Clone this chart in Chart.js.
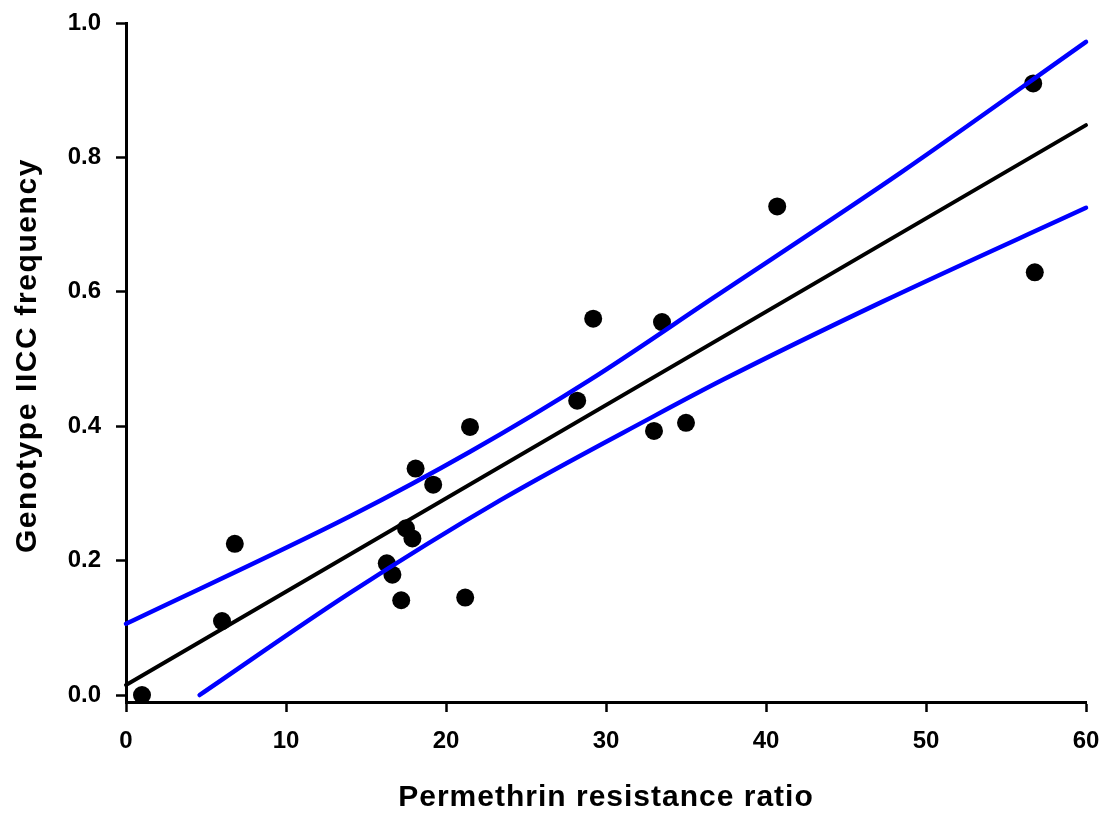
<!DOCTYPE html>
<html>
<head>
<meta charset="utf-8">
<script src="https://cdn.jsdelivr.net/npm/chart.js@4/dist/chart.umd.min.js"></script>
<style>
  html, body { margin: 0; padding: 0; background: #fff; }
  #wrap { width: 1102px; height: 813px; }
</style>
</head>
<body>
<div id="wrap"><canvas id="chart"></canvas></div>
<script>
// observed points (resistance ratio vs IICC frequency)
const resistanceRatio = [1.0, 6.0, 6.8, 16.3, 16.65, 17.2, 17.5, 17.9, 18.1, 19.2, 21.2, 21.5, 28.2, 29.2, 33.0, 33.5, 35.0, 40.7, 56.7, 56.8];
const iiccFrequency   = [0.0, 0.110, 0.225, 0.196, 0.179, 0.141, 0.248, 0.233, 0.337, 0.313, 0.145, 0.399, 0.438, 0.560, 0.393, 0.555, 0.405, 0.727, 0.910, 0.629];

// regression line
const fitX = [0, 60];
const fitY = [0.015, 0.848];

// confidence band
const upperX = [0, 14.0, 21.5, 29.0, 36.7, 48.4, 60];
const upperY = [0.106, 0.266, 0.362, 0.469, 0.591, 0.777, 0.972];
const lowerX = [4.6, 14.0, 23.4, 33.0, 37.3, 47.25, 60];
const lowerY = [0.0, 0.152, 0.290, 0.415, 0.469, 0.585, 0.725];

// axis ticks
const xTicks = [0, 10, 20, 30, 40, 50, 60];
const yTicks = [0.0, 0.2, 0.4, 0.6, 0.8, 1.0];

const FONT = "'Liberation Sans', Arial, sans-serif";

function pairs(xs, ys) {
    return xs.map((x, i) => ({ x: x, y: ys[i] }));
}

// axis titles in the original are drawn a bit wider than Arial,
// so add letter spacing (ticks untouched); nudge the y title up a little
const titleSpacing = {
    id: 'titleSpacing',
    beforeDraw(chart) {
        Object.values(chart.scales).forEach(scale => {
            if (scale._spaced) return;
            const orig = scale.drawTitle;
            const vertical = scale.axis === 'y';
            scale.drawTitle = function () {
                this.ctx.save();
                this.ctx.letterSpacing = vertical ? '1.6px' : '1px';
                if (vertical) this.ctx.translate(0, -7);
                orig.call(this);
                this.ctx.restore();
            };
            scale._spaced = true;
        });
    }
};

// fixed axis boxes so the plot area sits where the original's does
function fixBox(size) {
    return s => {
        if (s.isHorizontal()) s.height = size; else s.width = size;
        s.paddingTop = s.paddingBottom = s.paddingLeft = s.paddingRight = 0;
    };
}

const lineStyle = {
    type: 'line',
    showLine: true,
    pointRadius: 0,
    fill: false,
    borderCapStyle: 'round',
    cubicInterpolationMode: 'monotone',
    clip: false
};

new Chart(document.getElementById('chart'), {
    type: 'scatter',
    data: {
        datasets: [
            Object.assign({ label: 'Upper 95%', data: pairs(upperX, upperY), borderColor: '#0000ff', borderWidth: 4.5 }, lineStyle),
            Object.assign({ label: 'Lower 95%', data: pairs(lowerX, lowerY), borderColor: '#0000ff', borderWidth: 4.5 }, lineStyle),
            Object.assign({ label: 'Regression', data: pairs(fitX, fitY), borderColor: '#000000', borderWidth: 4 }, lineStyle),
            {
                label: 'Observed',
                data: pairs(resistanceRatio, iiccFrequency),
                backgroundColor: '#000000',
                borderWidth: 0,
                pointRadius: 9,
                clip: false
            }
        ]
    },
    options: {
        responsive: true,
        maintainAspectRatio: false,
        animation: false,
        layout: { padding: { left: 0, right: 16, top: 23, bottom: 0 } },
        plugins: {
            legend: { display: false },
            tooltip: { enabled: false }
        },
        scales: {
            x: {
                type: 'linear',
                min: 0,
                max: 60,
                afterFit: fixBox(111),
                afterBuildTicks: s => { s.ticks = xTicks.map(v => ({ value: v })); },
                grid: { drawOnChartArea: false, tickLength: 10, tickWidth: 2.5, tickColor: '#000' },
                border: { display: true, color: '#000', width: 3 },
                ticks: {
                    color: '#000',
                    padding: 15,
                    font: { family: FONT, size: 24, weight: 'bold' },
                    callback: v => String(v)
                },
                title: {
                    display: true,
                    text: 'Permethrin resistance ratio',
                    color: '#000',
                    padding: { top: 0, bottom: 0 },
                    font: { family: FONT, size: 30, weight: 'bold', lineHeight: 1 }
                }
            },
            y: {
                type: 'linear',
                min: -0.0104,
                max: 1.0,
                afterFit: fixBox(126),
                afterBuildTicks: s => { s.ticks = yTicks.map(v => ({ value: v })); },
                grid: { drawOnChartArea: false, tickLength: 10, tickWidth: 2.5, tickColor: '#000' },
                border: { display: true, color: '#000', width: 3 },
                ticks: {
                    color: '#000',
                    padding: 15,
                    font: { family: FONT, size: 24, weight: 'bold' },
                    callback: v => Number(v).toFixed(1)
                },
                title: {
                    display: true,
                    text: 'Genotype IICC frequency',
                    color: '#000',
                    padding: { top: 13, bottom: 0 },
                    font: { family: FONT, size: 30, weight: 'bold', lineHeight: 1 }
                }
            }
        }
    },
    plugins: [titleSpacing]
});
</script>
</body>
</html>
